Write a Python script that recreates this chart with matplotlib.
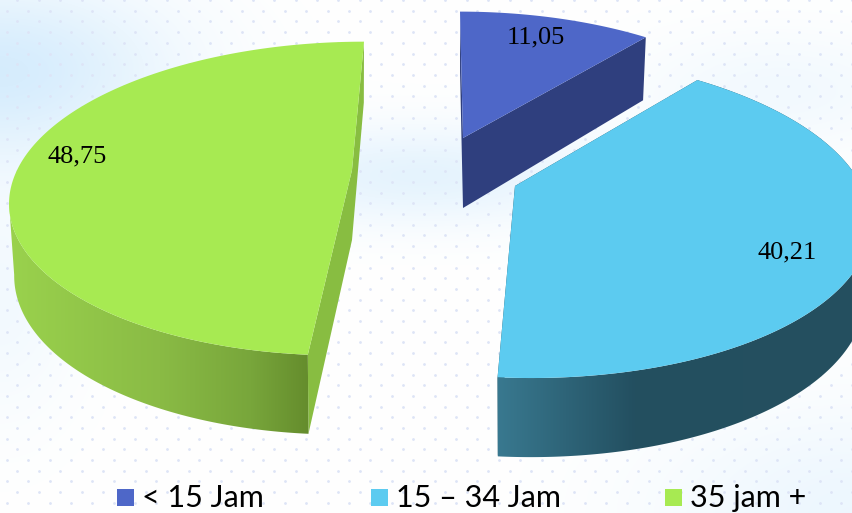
# Exploded 3D style pie, drawn by hand because matplotlib has no 3D pie
import numpy as np
import matplotlib
matplotlib.use('Agg')
import matplotlib.pyplot as plt
from matplotlib.colors import LinearSegmentedColormap
from matplotlib.patches import Polygon, Rectangle

categories = ['< 15 Jam', '15 – 34 Jam', '35 jam +']
values = [11.05, 40.21, 48.75]
value_labels = ['11,05', '40,21', '48,75']
top_colors = ['#4e67c8', '#5ccbf0', '#a7ea52']
cut_colors = ['#2f3f7e', '#24505f', '#88bd41']

# where each slice sits after exploding: apex x, apex y, skew, size
apex = [(463, 138), (515, 186), (352, 170)]
skew = [3, 16, -12]
scale = [0.97, 1.02, 0.985]
label_pos = [(536, 37), (787, 252), (77, 156)]
legend_x = [117, 371, 665]

W, H = 852, 513
RX, RY, K = 340, 154, 0.182
THICK = 70


def top_edge(theta, i):
    u, v = np.sin(theta), -np.cos(theta)
    s = scale[i] / (1 - K * v)
    return apex[i][0] + RX * u * s + skew[i] * v, apex[i][1] + RY * v * s, v


def bottom_edge(theta, i):
    x, y, v = top_edge(theta, i)
    x = apex[i][0] + (x - apex[i][0]) * 0.985
    return x, y + THICK * (1 + 0.13 * v)


fig = plt.figure(figsize=(W / 100, H / 100), dpi=100)
ax = fig.add_axes([0, 0, 1, 1])
ax.set_xlim(0, W)
ax.set_ylim(H, 0)
ax.axis('off')

# background wash and dot pattern
yy, xx = np.mgrid[0:H, 0:W]
wash = np.exp(-((xx / 170.0) ** 2 + ((yy - 70) / 90.0) ** 2)) * 0.16
wash += np.exp(-(((xx - 420) / 200.0) ** 2 + ((yy - 175) / 50.0) ** 2)) * 0.10
wash += np.exp(-(((xx - 852) / 200.0) ** 2 + ((yy - 513) / 110.0) ** 2)) * 0.07
wash += np.exp(-(((xx - 780) / 150.0) ** 2 + ((yy - 90) / 60.0) ** 2)) * 0.05
wash += np.exp(-((xx / 80.0) ** 2 + ((yy - 300) / 120.0) ** 2)) * 0.05
bg = np.dstack([1 - wash, 1 - wash * 0.45, 1 - wash * 0.05])
ax.imshow(bg.clip(0, 1), extent=(0, W, H, 0), aspect='auto', zorder=0)

dot_x, dot_y = [], []
for r, py in enumerate(np.arange(0, H, 10.7)):
    for px in np.arange(6.7 + ((r + 1) % 2) * 10.7, W, 21.4):
        dot_x.append(px)
        dot_y.append(py)
ax.scatter(dot_x, dot_y, s=4, color='#dde4f6', linewidths=0, zorder=1)

wall_stops = {
    1: [(0.0, '#3a7b92'), (0.40, '#234f60'), (1.0, '#25505f')],
    2: [(0.0, '#9ad24d'), (0.5, '#8abb45'), (0.8, '#78a63b'), (1.0, '#648b2c')],
}
wall_span = {1: (490, 852), 2: (8, 312)}

total = sum(values)
start = 0.0
spans = []
for val in values:
    end = start + val / total * 2 * np.pi
    spans.append((start, end))
    start = end

for i, (a, b) in enumerate(spans):
    t = np.linspace(a, b, 240)
    tx, ty, _ = top_edge(t, i)

    # the two cut faces go under the wall
    ax0, ay0 = apex[i]
    abx, aby = ax0, ay0 + THICK
    for th in (a, b):
        cx, cy, _ = top_edge(th, i)
        dx, dy = bottom_edge(th, i)
        ax.add_patch(Polygon([(ax0, ay0), (cx, cy), (dx, dy), (abx, aby)], closed=True,
                             facecolor=cut_colors[i], edgecolor='none', zorder=2))

    # outer wall, stopped at the left extreme so the silhouette stays straight there
    if i in wall_stops:
        wt = t
        if i == 2:
            wt = t[:np.argmin(tx) + 1]
        wx, wy, _ = top_edge(wt, i)
        bx, by = bottom_edge(wt, i)
        poly = Polygon(np.r_[np.c_[wx, wy], np.c_[bx, by][::-1]], closed=True,
                       facecolor='none', edgecolor='none', transform=ax.transData)
        ax.add_patch(poly)
        cmap = LinearSegmentedColormap.from_list('wall', wall_stops[i])
        x0, x1 = wall_span[i]
        im = ax.imshow(np.linspace(0, 1, 256)[None, :], cmap=cmap, aspect='auto',
                       extent=(x0, x1, H, 0), zorder=3)
        im.set_clip_path(poly)

    # top face
    ax.add_patch(Polygon(np.r_[[(ax0, ay0)], np.c_[tx, ty]], closed=True,
                         facecolor=top_colors[i], edgecolor='none', zorder=4))

for lab, (lx, ly) in zip(value_labels, label_pos):
    ax.text(lx, ly, lab, fontsize=19, family='Liberation Serif', color='black',
            ha='center', va='center', zorder=5)

# legend
for name, col, lx in zip(categories, top_colors, legend_x):
    ax.add_patch(Rectangle((lx, 489), 17, 17, facecolor=col, edgecolor='none', zorder=5))
    ax.text(lx + 25, 507, name, fontsize=22, color='black', ha='left', va='baseline',
            family='Lato', zorder=5)

ax.set_xlim(0, W)
ax.set_ylim(H, 0)
fig.savefig('out.png', dpi=100)
